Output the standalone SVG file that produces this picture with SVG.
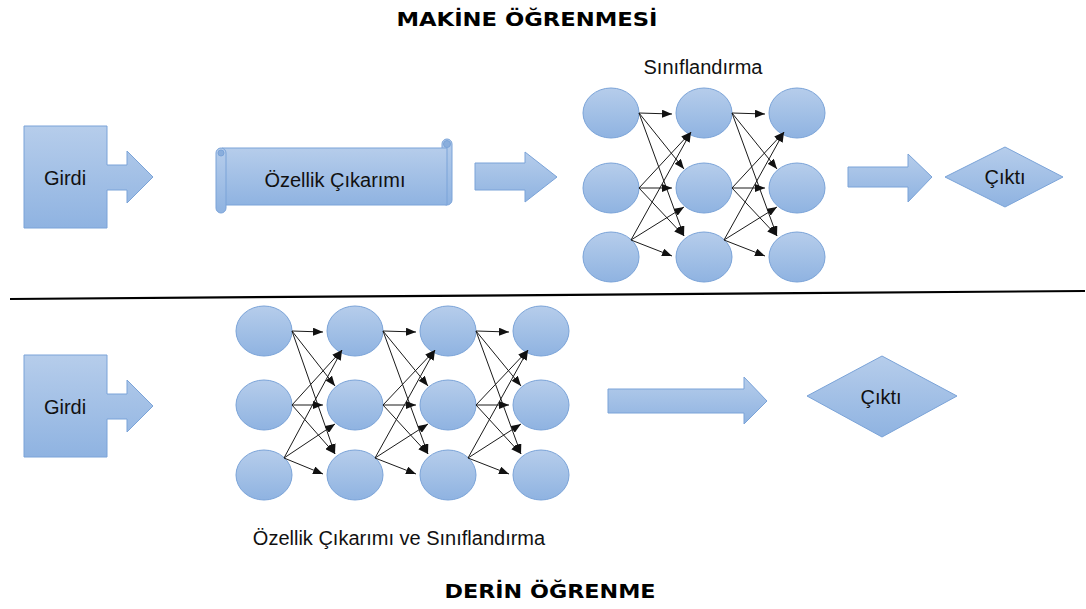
<svg xmlns="http://www.w3.org/2000/svg" width="1086" height="609" viewBox="0 0 1086 609">
<defs>
<linearGradient id="g" x1="0" y1="0" x2="0" y2="1">
<stop offset="0" stop-color="#b6cdeb"/>
<stop offset="1" stop-color="#8fb3e1"/>
</linearGradient>
<marker id="ah" markerUnits="userSpaceOnUse" markerWidth="10" markerHeight="8" viewBox="0 0 10 8" refX="10" refY="4" orient="auto">
<path d="M0,0 L10,4 L0,8 Z" fill="#111"/>
</marker>
<style>
.s{fill:url(#g);stroke:#7aa3d8;stroke-width:1}
.t{font-family:"Liberation Sans",Arial,sans-serif;font-size:20px;fill:#111;text-anchor:middle}
.h{font-family:"DejaVu Sans","Liberation Sans",sans-serif;font-weight:bold;font-size:19px;fill:#000;text-anchor:middle}
.c line{stroke:#1a1a1a;stroke-width:1;marker-end:url(#ah)}
</style>
</defs>
<rect width="1086" height="609" fill="#fff"/>
<text class="h" x="527" y="26" textLength="261" lengthAdjust="spacingAndGlyphs">MAKİNE ÖĞRENMESİ</text>
<text class="h" x="550" y="598" textLength="211" lengthAdjust="spacingAndGlyphs">DERİN ÖĞRENME</text>
<line x1="10" y1="299" x2="1085" y2="291" stroke="#000" stroke-width="2.2"/>

<g id="girdi-top">
<path class="s" d="M24,126 H107 V165 H127 V151 L153,177 L127,203 V190 H107 V228 H24 Z"/>
<text class="t" x="65" y="185">Girdi</text>
</g>
<g id="ozellik">
<rect class="s" x="442" y="139" width="10" height="66" rx="5"/>
<path class="s" d="M222,148 H447 V205 H222 Z"/>
<rect class="s" x="216" y="148" width="10" height="65" rx="5"/>
<circle cx="447" cy="144" r="3.5" fill="#8aaedc" stroke="#7aa3d8"/>
<circle cx="221" cy="153" r="3" fill="#8aaedc" stroke="#7aa3d8"/>
<text class="t" x="335" y="187">Özellik Çıkarımı</text>
</g>
<g id="arrow-top-1"><path class="s" d="M475,163 H525 V152 L557,177 L525,202 V190 H475 Z"/></g>
<g id="arrow-top-2"><path class="s" d="M848,167 H908 V154 L932,177 L908,202 V187 H848 Z"/></g>
<g id="cikti-top">
<path class="s" d="M945,177 L1005,147 L1063,177 L1005,207 Z"/>
<text class="t" x="1005" y="184">Çıktı</text>
</g>
<text class="t" x="703" y="74">Sınıflandırma</text>

<g id="nn-top">
<ellipse class="s" cx="611" cy="113" rx="28" ry="25"/>
<ellipse class="s" cx="611" cy="188" rx="28" ry="25"/>
<ellipse class="s" cx="611" cy="257" rx="28" ry="25"/>
<ellipse class="s" cx="704" cy="113" rx="28" ry="25"/>
<ellipse class="s" cx="704" cy="188" rx="28" ry="25"/>
<ellipse class="s" cx="704" cy="257" rx="28" ry="25"/>
<ellipse class="s" cx="797" cy="113" rx="28" ry="25"/>
<ellipse class="s" cx="797" cy="188" rx="28" ry="25"/>
<ellipse class="s" cx="797" cy="257" rx="28" ry="25"/>
</g>

<g id="girdi-bottom">
<path class="s" d="M24,355 H107 V394 H127 V380 L153,406 L127,432 V419 H107 V457 H24 Z"/>
<text class="t" x="65" y="414">Girdi</text>
</g>
<g id="nn-bottom">
<ellipse class="s" cx="264" cy="331" rx="28" ry="25"/>
<ellipse class="s" cx="264" cy="405" rx="28" ry="25"/>
<ellipse class="s" cx="264" cy="475" rx="28" ry="25"/>
<ellipse class="s" cx="355" cy="331" rx="28" ry="25"/>
<ellipse class="s" cx="355" cy="405" rx="28" ry="25"/>
<ellipse class="s" cx="355" cy="475" rx="28" ry="25"/>
<ellipse class="s" cx="448" cy="331" rx="28" ry="25"/>
<ellipse class="s" cx="448" cy="405" rx="28" ry="25"/>
<ellipse class="s" cx="448" cy="475" rx="28" ry="25"/>
<ellipse class="s" cx="541" cy="331" rx="28" ry="25"/>
<ellipse class="s" cx="541" cy="405" rx="28" ry="25"/>
<ellipse class="s" cx="541" cy="475" rx="28" ry="25"/>
</g>
<text class="t" x="399" y="545">Özellik Çıkarımı ve Sınıflandırma</text>
<g id="arrow-bottom"><path class="s" d="M608,389 H744 V377 L767,401 L744,424 V413 H608 Z"/></g>
<g id="cikti-bottom">
<path class="s" d="M807,396 L882,356 L957,396 L882,437 Z"/>
<text class="t" x="881" y="404">Çıktı</text>
</g>

<g id="connectors" class="c">
<line x1="639" y1="113" x2="672" y2="114"/>
<line x1="639" y1="113" x2="684" y2="169"/>
<line x1="639" y1="113" x2="684" y2="236"/>
<line x1="639" y1="188" x2="691" y2="132"/>
<line x1="639" y1="188" x2="672" y2="188"/>
<line x1="639" y1="188" x2="684" y2="236"/>
<line x1="631" y1="240" x2="691" y2="132"/>
<line x1="631" y1="240" x2="684" y2="207"/>
<line x1="631" y1="240" x2="672" y2="256"/>

<line x1="732" y1="113" x2="765" y2="114"/>
<line x1="732" y1="113" x2="777" y2="169"/>
<line x1="732" y1="113" x2="777" y2="236"/>
<line x1="732" y1="188" x2="784" y2="132"/>
<line x1="732" y1="188" x2="765" y2="188"/>
<line x1="732" y1="188" x2="777" y2="236"/>
<line x1="724" y1="240" x2="784" y2="132"/>
<line x1="724" y1="240" x2="777" y2="207"/>
<line x1="724" y1="240" x2="765" y2="256"/>

<line x1="292" y1="331" x2="323" y2="332"/>
<line x1="292" y1="331" x2="335" y2="386"/>
<line x1="292" y1="331" x2="335" y2="454"/>
<line x1="292" y1="405" x2="342" y2="350"/>
<line x1="292" y1="405" x2="323" y2="405"/>
<line x1="292" y1="405" x2="335" y2="454"/>
<line x1="284" y1="458" x2="342" y2="350"/>
<line x1="284" y1="458" x2="335" y2="424"/>
<line x1="284" y1="458" x2="323" y2="474"/>

<line x1="383" y1="331" x2="416" y2="332"/>
<line x1="383" y1="331" x2="428" y2="386"/>
<line x1="383" y1="331" x2="428" y2="454"/>
<line x1="383" y1="405" x2="435" y2="350"/>
<line x1="383" y1="405" x2="416" y2="405"/>
<line x1="383" y1="405" x2="428" y2="454"/>
<line x1="375" y1="458" x2="435" y2="350"/>
<line x1="375" y1="458" x2="428" y2="424"/>
<line x1="375" y1="458" x2="416" y2="474"/>

<line x1="476" y1="331" x2="509" y2="332"/>
<line x1="476" y1="331" x2="521" y2="386"/>
<line x1="476" y1="331" x2="521" y2="454"/>
<line x1="476" y1="405" x2="528" y2="350"/>
<line x1="476" y1="405" x2="509" y2="405"/>
<line x1="476" y1="405" x2="521" y2="454"/>
<line x1="468" y1="458" x2="528" y2="350"/>
<line x1="468" y1="458" x2="521" y2="424"/>
<line x1="468" y1="458" x2="509" y2="474"/>
</g>
</svg>
